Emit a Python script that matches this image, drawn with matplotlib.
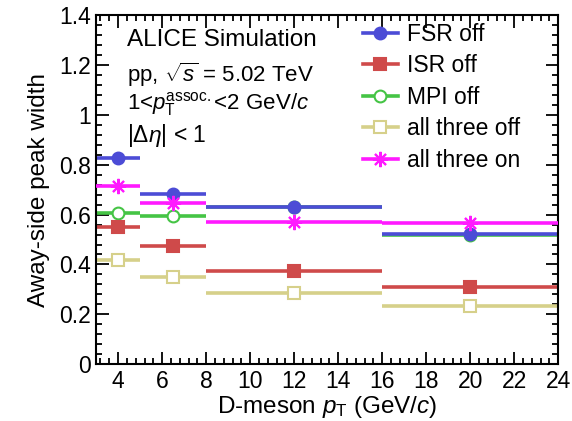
import matplotlib
matplotlib.use("Agg")
import matplotlib.pyplot as plt
from matplotlib.lines import Line2D
from matplotlib.ticker import MultipleLocator

plt.rcParams['font.family'] = ['Liberation Sans', 'DejaVu Sans']
plt.rcParams['mathtext.fontset'] = 'custom'
plt.rcParams['mathtext.rm'] = 'Liberation Sans'
plt.rcParams['mathtext.it'] = 'Liberation Sans:italic'
plt.rcParams['mathtext.bf'] = 'Liberation Sans:bold'

# D-meson pT bins
bin_lo = [3, 5, 8, 16]
bin_hi = [5, 8, 16, 24]
bin_mid = [4, 6.5, 12, 20]

fsr_off = [0.828, 0.684, 0.632, 0.522]
isr_off = [0.552, 0.472, 0.372, 0.308]
mpi_off = [0.606, 0.594, 0.632, 0.520]
all_off = [0.416, 0.348, 0.284, 0.232]
all_on = [0.714, 0.646, 0.572, 0.566]

# name, values, colour, marker, filled, zorder
series = [
    ("FSR off", fsr_off, '#4c4cd6', 'o', True, 2.3),
    ("ISR off", isr_off, '#cf4a4a', 's', True, 2.4),
    ("MPI off", mpi_off, '#45c445', 'o', False, 2.1),
    ("all three off", all_off, '#d6d08a', 's', False, 2.5),
    ("all three on", all_on, '#ff1aff', (8, 2, 0), True, 2.6),
]

fig = plt.figure(figsize=(5.72, 4.21), dpi=100)
ax = fig.add_axes([0.168, 0.135, 0.808, 0.829])

xerr_lo = [m - l for m, l in zip(bin_mid, bin_lo)]
xerr_hi = [h - m for m, h in zip(bin_mid, bin_hi)]

handles = []
for name, vals, col, mk, filled, z in series:
    ms = 11 if mk == (8, 2, 0) else 8.5
    fc = col if filled else 'white'
    ax.errorbar(bin_mid, vals, xerr=[xerr_lo, xerr_hi], linestyle='none',
                marker=mk, markersize=ms, color=col, ecolor=col,
                markerfacecolor=fc, markeredgecolor=col, markeredgewidth=1.5,
                elinewidth=2.6, capsize=0, zorder=z)
    handles.append(Line2D([], [], color=col, linewidth=2.6, marker=mk,
                          markersize=ms, markerfacecolor=fc,
                          markeredgecolor=col, markeredgewidth=1.5,
                          label=name))

ax.set_xlim(3, 24)
ax.set_ylim(0, 1.4)
ax.xaxis.set_major_locator(MultipleLocator(2))
ax.xaxis.set_minor_locator(MultipleLocator(0.4))
ax.yaxis.set_minor_locator(MultipleLocator(0.04))
ax.set_yticks([0, 0.2, 0.4, 0.6, 0.8, 1.0, 1.2, 1.4])
ax.set_yticklabels(["0", "0.2", "0.4", "0.6", "0.8", "1", "1.2", "1.4"])
ax.tick_params(which='both', direction='in', top=True, right=True,
               labelsize=16.5, width=1.3)
ax.tick_params(which='major', length=9, pad=4)
ax.tick_params(which='minor', length=4.5)
for sp in ax.spines.values():
    sp.set_linewidth(1.5)

ax.set_ylabel("Away-side peak width", fontsize=17.5, labelpad=6)
ax.set_xlabel(r"D-meson $p_{\rm T}$ (GeV/$c$)", fontsize=17.5, labelpad=1)

ax.text(0.066, 0.928, "ALICE Simulation", transform=ax.transAxes,
        fontsize=17.5, va='center')
ax.text(0.066, 0.83, r"pp, $\sqrt{s}$ = 5.02 TeV", transform=ax.transAxes,
        fontsize=16, va='center')
ax.text(0.066, 0.745, r"1<$p_{\rm T}^{\rm assoc.}$<2 GeV/$c$",
        transform=ax.transAxes, fontsize=16, va='center')
ax.text(0.066, 0.656, r"|$\Delta\eta$| < 1", transform=ax.transAxes,
        fontsize=16.5, va='center')

ax.legend(handles=handles, loc='upper left', bbox_to_anchor=(0.578, 0.978),
          frameon=False, fontsize=16.5, handlelength=1.5, handletextpad=0.4,
          labelspacing=0.37, borderaxespad=0, borderpad=0)

fig.savefig("out.png", dpi=100)
